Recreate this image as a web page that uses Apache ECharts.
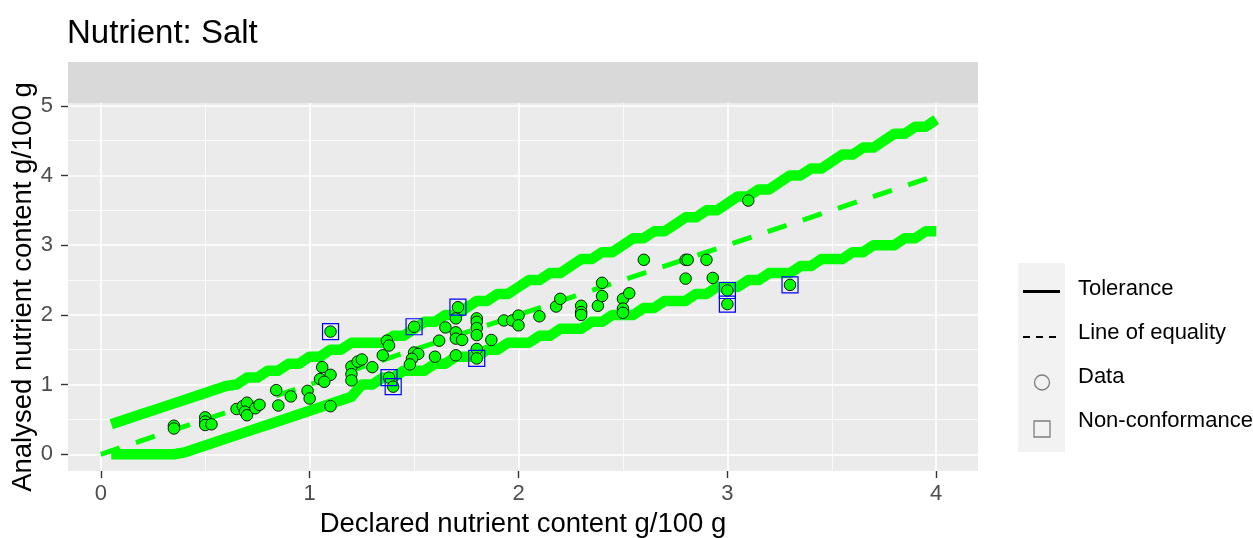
<!DOCTYPE html>
<html>
<head>
<meta charset="utf-8">
<title>Nutrient: Salt</title>
<script src="https://cdn.jsdelivr.net/npm/echarts@6/dist/echarts.min.js"></script>
<style>
  html, body { margin: 0; padding: 0; background: #ffffff; }
  #chart { width: 1253px; height: 538px; }
</style>
</head>
<body>
<div id="chart"></div>
<script>
// Declared values at which the tolerance limits are tabulated (g/100 g)
const tolX = [0.05,0.10,0.15,0.20,0.25,0.30,0.35,0.40,0.45,0.50,
              0.55,0.60,0.65,0.70,0.75,0.80,0.85,0.90,0.95,1.00,
              1.05,1.10,1.15,1.20,1.25,1.30,1.35,1.40,1.45,1.50,
              1.55,1.60,1.65,1.70,1.75,1.80,1.85,1.90,1.95,2.00,
              2.05,2.10,2.15,2.20,2.25,2.30,2.35,2.40,2.45,2.50,
              2.55,2.60,2.65,2.70,2.75,2.80,2.85,2.90,2.95,3.00,
              3.05,3.10,3.15,3.20,3.25,3.30,3.35,3.40,3.45,3.50,
              3.55,3.60,3.65,3.70,3.75,3.80,3.85,3.90,3.95,4.00];
// Upper tolerance limit
const tolUpper = [0.43,0.48,0.53,0.58,0.63,0.68,0.73,0.78,0.83,0.88,
                  0.93,0.98,1.0,1.1,1.1,1.2,1.2,1.3,1.3,1.4,
                  1.4,1.5,1.5,1.6,1.6,1.6,1.6,1.7,1.7,1.8,
                  1.9,1.9,2.0,2.0,2.1,2.2,2.2,2.3,2.3,2.4,
                  2.5,2.5,2.6,2.6,2.7,2.8,2.8,2.9,2.9,3.0,
                  3.1,3.1,3.2,3.2,3.3,3.4,3.4,3.5,3.5,3.6,
                  3.7,3.7,3.8,3.8,3.9,4.0,4.0,4.1,4.1,4.2,
                  4.3,4.3,4.4,4.4,4.5,4.6,4.6,4.7,4.7,4.8];
// Lower tolerance limit
const tolLower = [0,0,0,0,0,0,0,0.025,0.075,0.125,
                  0.175,0.225,0.275,0.325,0.375,0.425,0.475,0.525,0.575,0.625,
                  0.675,0.725,0.775,0.825,1.0,1.0,1.1,1.1,1.2,1.2,
                  1.2,1.3,1.3,1.4,1.4,1.4,1.5,1.5,1.6,1.6,
                  1.6,1.7,1.7,1.8,1.8,1.8,1.9,1.9,2.0,2.0,
                  2.0,2.1,2.1,2.2,2.2,2.2,2.3,2.3,2.4,2.4,
                  2.4,2.5,2.5,2.6,2.6,2.6,2.7,2.7,2.8,2.8,
                  2.8,2.9,2.9,3.0,3.0,3.0,3.1,3.1,3.2,3.2];

// Line of equality end points
const eqX = [0, 4];
const eqY = [0, 4];

// Samples: declared vs analysed salt content (g/100 g)
const declared = [0.35,0.35,0.50,0.50,0.50,0.53,0.65,0.68,0.70,0.69,
                  0.70,0.74,0.76,0.84,0.85,0.91,0.99,1.00,1.10,1.06,
                  1.10,1.05,1.07,1.20,1.23,1.25,1.20,1.20,1.30,1.37,
                  1.38,1.35,1.50,1.52,1.49,1.48,1.65,1.70,1.70,1.70,
                  1.73,1.62,1.60,1.70,1.80,1.80,1.80,1.80,1.80,1.87,
                  1.93,1.97,2.00,2.00,2.10,2.18,2.20,2.30,2.30,2.30,
                  2.38,2.40,2.40,2.50,2.50,2.50,2.53,2.60,2.80,2.81,
                  2.80,2.90,2.93,3.10,
                  1.10,1.50,1.71,1.38,1.40,1.80,3.00,3.00,3.30];
const analysed = [0.41,0.37,0.53,0.47,0.42,0.43,0.65,0.69,0.74,0.61,
                  0.56,0.66,0.71,0.92,0.70,0.83,0.91,0.80,0.69,1.25,
                  1.14,1.08,1.04,1.26,1.33,1.36,1.15,1.06,1.25,1.63,
                  1.56,1.42,1.46,1.44,1.37,1.29,1.82,1.95,1.75,1.66,
                  1.64,1.63,1.40,1.42,1.95,1.90,1.81,1.71,1.51,1.64,
                  1.92,1.92,1.99,1.85,1.98,2.12,2.23,2.13,2.04,2.00,
                  2.13,2.27,2.46,2.23,2.09,2.03,2.31,2.79,2.79,2.79,
                  2.52,2.79,2.53,3.64,
                  1.76,1.83,2.11,1.10,0.97,1.375,2.35,2.155,2.43];

// Samples outside the tolerance band
const ncDeclared = [1.10,1.50,1.71,1.38,1.40,1.80,3.00,3.00,3.30];
const ncAnalysed = [1.76,1.83,2.11,1.10,0.97,1.375,2.35,2.155,2.43];

// Axis breaks
const xMajor = [0, 1, 2, 3, 4];
const yMajor = [0, 1, 2, 3, 4, 5];
const xMinor = [0.5, 1.5, 2.5, 3.5];
const yMinor = [0.5, 1.5, 2.5, 3.5, 4.5];

const titleText = 'Nutrient: Salt';
const xTitle = 'Declared nutrient content g/100 g';
const yTitle = 'Analysed nutrient content g/100 g';
const legendLabels = ['Tolerance', 'Line of equality', 'Data', 'Non-conformance'];

const FONT = '"Liberation Sans", Arial, sans-serif';
const GREEN = '#00FF00';

const zip = (a, b) => a.map((v, i) => [v, b[i]]);

const chart = echarts.init(document.getElementById('chart'), null, { renderer: 'canvas' });

const legendX = 1018;
const option = {
  animation: false,
  backgroundColor: '#ffffff',
  textStyle: { fontFamily: FONT },
  title: {
    text: titleText,
    left: 67,
    top: 17,
    padding: 0,
    textStyle: { fontFamily: FONT, fontSize: 33, fontWeight: 'normal', color: '#000000' }
  },
  grid: {
    left: 68, top: 103, width: 910, height: 368,
    outerBoundsMode: 'none', containLabel: false,
    show: true, backgroundColor: '#EBEBEB', borderWidth: 0
  },
  xAxis: {
    type: 'value', min: -0.157, max: 4.2, position: 'bottom',
    name: xTitle, nameLocation: 'middle', nameGap: 39, nameMoveOverlap: false,
    nameTextStyle: { fontFamily: FONT, fontSize: 27.5, color: '#000000' },
    axisLine: { show: false, onZero: false },
    axisTick: { show: true, length: 7, lineStyle: { color: '#333333', width: 1.4 }, customValues: xMajor },
    axisLabel: { customValues: xMajor, margin: 12, fontFamily: FONT, fontSize: 22, color: '#4D4D4D' },
    splitLine: { show: true, lineStyle: { color: '#FFFFFF', width: 1.7 } }
  },
  yAxis: {
    type: 'value', min: -0.24, max: 5.04, position: 'left',
    name: yTitle, nameLocation: 'middle', nameGap: 31, nameRotate: 90, nameMoveOverlap: false,
    nameTextStyle: { fontFamily: FONT, fontSize: 27.5, color: '#000000' },
    axisLine: { show: false, onZero: false },
    axisTick: { show: true, length: 7, lineStyle: { color: '#333333', width: 1.4 }, customValues: yMajor },
    axisLabel: { customValues: yMajor, margin: 15, fontFamily: FONT, fontSize: 22, color: '#4D4D4D' },
    splitLine: { show: true, lineStyle: { color: '#FFFFFF', width: 1.7 } }
  },
  series: [
    {
      // minor grid lines
      type: 'line', data: [], silent: true, z: 1,
      markLine: {
        silent: true, symbol: 'none', z: 1, animation: false,
        label: { show: false },
        lineStyle: { color: '#FFFFFF', width: 0.8, type: 'solid' },
        emphasis: { disabled: true },
        data: xMinor.map(v => ({ xAxis: v })).concat(yMinor.map(v => ({ yAxis: v })))
      }
    },
    {
      name: 'Upper tolerance', type: 'line', data: zip(tolX, tolUpper), z: 3,
      showSymbol: false, symbol: 'none', silent: true,
      lineStyle: { color: GREEN, width: 10.5, cap: 'butt', join: 'round' }
    },
    {
      name: 'Lower tolerance', type: 'line', data: zip(tolX, tolLower), z: 3,
      showSymbol: false, symbol: 'none', silent: true,
      lineStyle: { color: GREEN, width: 10.5, cap: 'butt', join: 'round' }
    },
    {
      name: 'Line of equality', type: 'line', data: zip(eqX, eqY), z: 4,
      showSymbol: false, symbol: 'none', silent: true,
      lineStyle: { color: GREEN, width: 5, type: [20, 17], cap: 'butt' }
    },
    {
      name: 'Data', type: 'scatter', data: zip(declared, analysed), z: 5,
      symbol: 'circle', symbolSize: 11.5, silent: true,
      itemStyle: { color: GREEN, borderColor: '#000000', borderWidth: 0.9, opacity: 1 }
    },
    {
      name: 'Non-conformance', type: 'scatter', data: zip(ncDeclared, ncAnalysed), z: 6,
      symbol: 'rect', symbolSize: 16, silent: true,
      itemStyle: { color: 'rgba(0,0,0,0)', borderColor: '#0000FF', borderWidth: 1.2, opacity: 1 }
    }
  ],
  graphic: [
    // facet strip
    { type: 'rect', z: -1, silent: true, shape: { x: 68, y: 62, width: 910, height: 41 }, style: { fill: '#D9D9D9' } },
    // legend keys
    { type: 'rect', silent: true, shape: { x: legendX, y: 263, width: 47, height: 189 }, style: { fill: '#F2F2F2' } },
    { type: 'line', silent: true, shape: { x1: legendX + 5, y1: 291.5, x2: legendX + 42, y2: 291.5 }, style: { stroke: '#000000', lineWidth: 3 } },
    { type: 'line', silent: true, shape: { x1: legendX + 5, y1: 337, x2: legendX + 42, y2: 337 }, style: { stroke: '#000000', lineWidth: 2.2, lineDash: [7, 6] } },
    { type: 'circle', silent: true, shape: { cx: legendX + 24, cy: 382.5, r: 7.5 }, style: { fill: 'none', stroke: '#7F7F7F', lineWidth: 1.3 } },
    { type: 'rect', silent: true, shape: { x: legendX + 16, y: 421, width: 16, height: 16 }, style: { fill: 'none', stroke: '#7F7F7F', lineWidth: 1.3 } },
    { type: 'text', silent: true, x: 1078, y: 289, style: { text: legendLabels[0], font: '22px ' + FONT, fill: '#000000', verticalAlign: 'middle' } },
    { type: 'text', silent: true, x: 1078, y: 333, style: { text: legendLabels[1], font: '22px ' + FONT, fill: '#000000', verticalAlign: 'middle' } },
    { type: 'text', silent: true, x: 1078, y: 377, style: { text: legendLabels[2], font: '22px ' + FONT, fill: '#000000', verticalAlign: 'middle' } },
    { type: 'text', silent: true, x: 1078, y: 421, style: { text: legendLabels[3], font: '22px ' + FONT, fill: '#000000', verticalAlign: 'middle' } }
  ]
};

chart.setOption(option);
</script>
</body>
</html>
